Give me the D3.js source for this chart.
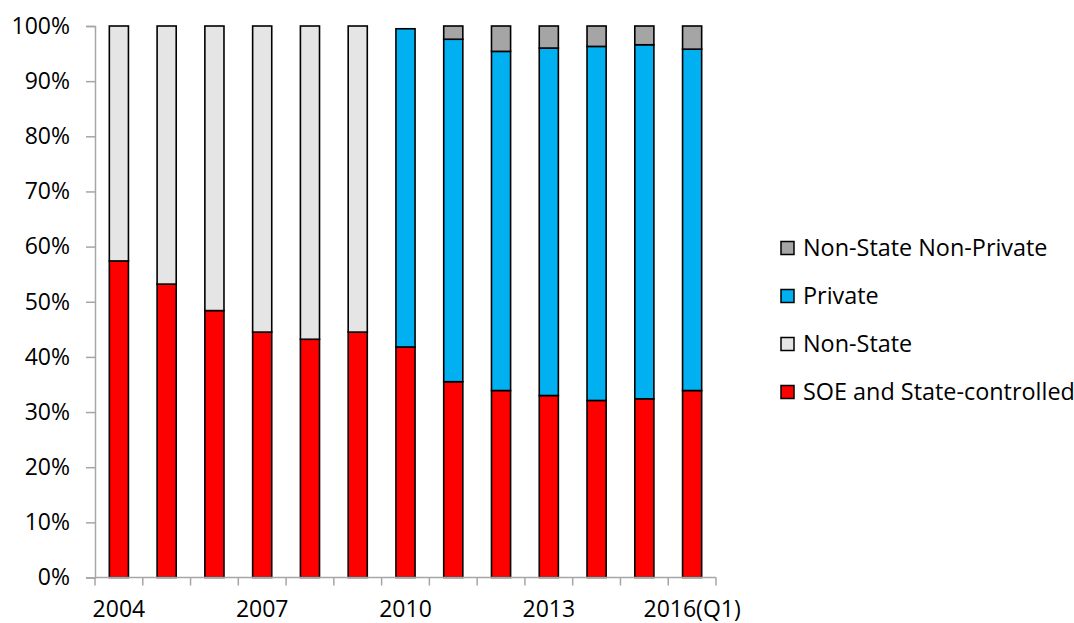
<!DOCTYPE html>
<html>
<head>
<meta charset="utf-8">
<script src="https://cdn.jsdelivr.net/npm/d3@7"></script>
<style>
  body { margin: 0; background: #fff; }
  svg { display: block; font-family: "Open Sans", sans-serif; }
</style>
</head>
<body>
<div id="chart"></div>
<script>
const years = ["2004", "2005", "2006", "2007", "2008", "2009", "2010", "2011", "2012", "2013", "2014", "2015", "2016(Q1)"];
const tickYears = ["2004", "2007", "2010", "2013", "2016(Q1)"];

// shares in %
const soe      = [57.4, 53.2, 48.4, 44.5, 43.2, 44.5, 41.8, 35.5, 33.9, 33.0, 32.1, 32.4, 33.9];
const nonState = [42.6, 46.8, 51.6, 55.5, 56.8, 55.5, 0, 0, 0, 0, 0, 0, 0];
const priv     = [0, 0, 0, 0, 0, 0, 57.7, 62.1, 61.5, 63.0, 64.2, 64.2, 61.9];
const nsnp     = [0, 0, 0, 0, 0, 0, 0, 2.4, 4.6, 4.0, 3.7, 3.4, 4.2];

const seriesKeys = ["soe", "nonState", "priv", "nsnp"];
const seriesNames = {
  soe: "SOE and State-controlled",
  nonState: "Non-State",
  priv: "Private",
  nsnp: "Non-State Non-Private"
};
const colors = { soe: "#ff0000", nonState: "#e5e5e5", priv: "#00b0f0", nsnp: "#a5a5a5" };

const rows = years.map((y, i) => ({
  year: y, soe: soe[i], nonState: nonState[i], priv: priv[i], nsnp: nsnp[i]
}));

const width = 1074, height = 623;
const margin = { left: 95, top: 26, right: 358, bottom: 45.5 };

const svg = d3.select("#chart").append("svg")
  .attr("width", width)
  .attr("height", height);

const x = d3.scaleBand()
  .domain(years)
  .range([margin.left, width - margin.right])
  .paddingInner(0.6)
  .paddingOuter(0.3);

const y = d3.scaleLinear()
  .domain([0, 100])
  .range([height - margin.bottom, margin.top]);

const stack = d3.stack().keys(seriesKeys);
const stacked = stack(rows);

// bars
svg.append("g")
  .selectAll("g")
  .data(stacked)
  .enter().append("g")
  .attr("fill", d => colors[d.key])
  .selectAll("rect")
  .data(d => d.filter(p => p[1] - p[0] > 0))
  .enter().append("rect")
  .attr("x", d => x(d.data.year))
  .attr("width", x.bandwidth())
  .attr("y", d => y(d[1]))
  .attr("height", d => y(d[0]) - y(d[1]))
  .attr("stroke", "#000")
  .attr("stroke-width", 1.6);

// y axis
const yAxis = svg.append("g")
  .attr("transform", `translate(${margin.left},0)`)
  .call(d3.axisLeft(y)
    .tickValues(d3.range(0, 101, 10))
    .tickFormat(d => d + "%")
    .tickSize(9)
    .tickPadding(16));
yAxis.select(".domain").attr("stroke", "#a6a6a6").attr("stroke-width", 1.5);
yAxis.selectAll(".tick line").attr("stroke", "#a6a6a6").attr("stroke-width", 1.5);
yAxis.selectAll("text").attr("font-size", "23px").attr("fill", "#000")
  .attr("font-family", "Open Sans, sans-serif");

// x axis: ticks at category boundaries
const step = x.step();
const bounds = years.map(yr => x(yr) - (step - x.bandwidth()) / 2);
bounds.push(x(years[years.length - 1]) + x.bandwidth() + (step - x.bandwidth()) / 2);

const xg = svg.append("g");
xg.append("line")
  .attr("x1", margin.left)
  .attr("x2", bounds[bounds.length - 1])
  .attr("y1", y(0))
  .attr("y2", y(0))
  .attr("stroke", "#a6a6a6")
  .attr("stroke-width", 1.5);
xg.selectAll("line.tick")
  .data(bounds)
  .enter().append("line")
  .attr("class", "tick")
  .attr("x1", d => d)
  .attr("x2", d => d)
  .attr("y1", y(0))
  .attr("y2", y(0) + 8)
  .attr("stroke", "#a6a6a6")
  .attr("stroke-width", 1.5);
xg.selectAll("text")
  .data(tickYears)
  .enter().append("text")
  .attr("x", d => x(d) + x.bandwidth() / 2)
  .attr("y", y(0) + 39.5)
  .attr("text-anchor", "middle")
  .attr("font-size", "23px")
  .text(d => d);

// legend
const legendKeys = ["nsnp", "priv", "nonState", "soe"];
const legend = svg.append("g")
  .selectAll("g")
  .data(legendKeys)
  .enter().append("g")
  .attr("transform", (d, i) => `translate(781,${248 + i * 48})`);

legend.append("rect")
  .attr("x", 0)
  .attr("y", -6.5)
  .attr("width", 13)
  .attr("height", 13)
  .attr("fill", d => colors[d])
  .attr("stroke", "#000")
  .attr("stroke-width", 1.5);

legend.append("text")
  .attr("x", 22)
  .attr("y", 0)
  .attr("dy", "0.36em")
  .attr("font-size", "23.4px")
  .text(d => seriesNames[d]);
</script>
</body>
</html>
